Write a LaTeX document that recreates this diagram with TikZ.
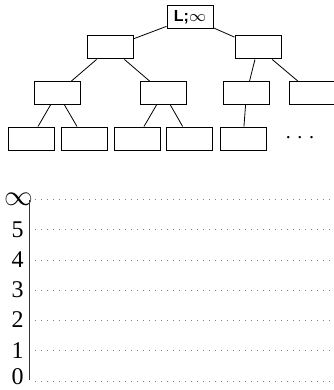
\documentclass[tikz,border=0pt]{standalone}
\usepackage{fontspec}
\setmainfont{Liberation Serif}
\setsansfont{Liberation Sans}
\usepackage{tikz}

\begin{document}
\begin{tikzpicture}[x=0.5pt, y=-0.5pt,
    box/.style={draw, line width=0.5pt, minimum width=23pt, minimum height=11.5pt, inner sep=0pt},
    level/.style={gray, line width=0.4pt, dash pattern=on 0.4pt off 2.6pt},
    tick/.style={font=\large, inner sep=0pt}]
    \useasboundingbox (0, 0) rectangle (333, 390);

    % Tree
    \node[box, font=\sffamily\bfseries\footnotesize] (root) at (190, 17.5) {L;$\infty$};

    \node[box] (l) at (110.5, 47.5) {};
    \node[box] (r) at (258, 47.5) {};

    \node[box] (ll) at (57.5, 93) {};
    \node[box] (lr) at (163.5, 93) {};
    \node[box] (rl) at (246.5, 93) {};
    \node[box] (rr) at (312, 93) {};

    \node[box] (lll) at (31, 138.5) {};
    \node[box] (llr) at (84, 138.5) {};
    \node[box] (lrl) at (137, 138.5) {};
    \node[box] (lrr) at (189.5, 138.5) {};
    \node[box] (rll) at (243, 138.5) {};
    \node (more) at (300, 138) {.\,\,.\,\,.};

    \draw (root) -- (l);
    \draw (root) -- (r);
    \draw (l) -- (ll);
    \draw (l) -- (lr);
    \draw (r) -- (rl);
    \draw (r) -- (rr);
    \draw (ll) -- (lll);
    \draw (ll) -- (llr);
    \draw (lr) -- (lrl);
    \draw (lr) -- (lrr);
    \draw (rl) -- (rll);

    % Levels
    \draw[level] (35, 199) -- (333, 199);
    \draw[level] (35, 229.3) -- (333, 229.3);
    \draw[level] (35, 260) -- (333, 260);
    \draw[level] (35, 290) -- (333, 290);
    \draw[level] (35, 320) -- (333, 320);
    \draw[level] (35, 350.5) -- (333, 350.5);
    \draw[level] (35, 381) -- (333, 381);

    \node[tick, font=\Large] (inf) at (18.5, 199) {$\infty$};
    \node[tick] (five) at (17.5, 229.3) {5};
    \node[tick] (four) at (17.5, 260) {4};
    \node[tick] (three) at (17.5, 290) {3};
    \node[tick] (two) at (17.5, 320) {2};
    \node[tick] (one) at (17.5, 350.5) {1};
    \node[tick] (zero) at (17.5, 377) {0};

    \draw[line width=0.6pt, black!80] (29.3, 200) -- (29.3, 380);
\end{tikzpicture}
\end{document}
